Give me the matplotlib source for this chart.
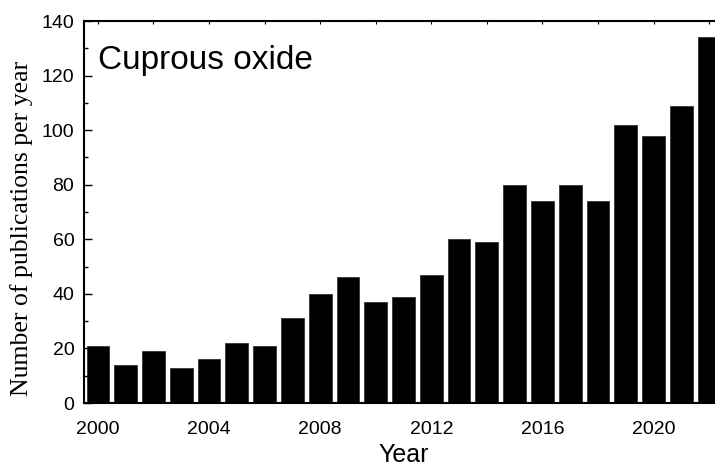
import matplotlib
matplotlib.use("Agg")
import matplotlib.pyplot as plt
import numpy as np
from matplotlib.ticker import MultipleLocator

# publications per year, 2000-2022
years = np.arange(2000, 2023)
counts = [21, 14, 19, 13, 16, 22, 21, 31, 40, 46, 37, 39, 47,
          60, 59, 80, 74, 80, 74, 102, 98, 109, 134]

x_ticks = [2000, 2004, 2008, 2012, 2016, 2020]
y_ticks = [0, 20, 40, 60, 80, 100, 120, 140]

fig = plt.figure(figsize=(7.15, 4.68), dpi=100)
ax = fig.add_axes([84 / 715, 1 - 403 / 468, 1 - 84 / 715, (403 - 21) / 468])

ax.bar(years, counts, width=0.82, color='black', edgecolor='#333333', linewidth=0.6)

ax.set_xlim(1999.5, 2022.21)
ax.set_ylim(0, 140)
ax.set_xticks(x_ticks)
ax.set_yticks(y_ticks)
ax.xaxis.set_minor_locator(MultipleLocator(2))
ax.yaxis.set_minor_locator(MultipleLocator(10))

for lab in ax.get_xticklabels() + ax.get_yticklabels():
    lab.set_family('Liberation Sans')
    lab.set_fontsize(14)

ax.tick_params(axis='y', which='major', direction='in', length=6, width=1, pad=7)
ax.tick_params(axis='y', which='minor', direction='in', length=3, width=1)
ax.tick_params(axis='x', which='both', direction='in', length=2, width=0.8,
               top=True, pad=13)

ax.spines['right'].set_visible(False)
for side in ['left', 'top', 'bottom']:
    ax.spines[side].set_linewidth(1.5)

ax.text(98 / 715, 1 - 69 / 468, 'Cuprous oxide', transform=fig.transFigure,
        family='Liberation Sans', fontsize=24, va='baseline', ha='left')

fig.text(22 / 715, 1 - 228 / 468, 'Number of publications per year',
         family='Liberation Serif', fontsize=18.5, rotation=90,
         ha='center', va='center')
fig.text(404 / 715, 1 / 468, 'Year', family='Liberation Sans', fontsize=18,
         ha='center', va='bottom')

fig.savefig('out.png', dpi=100)
